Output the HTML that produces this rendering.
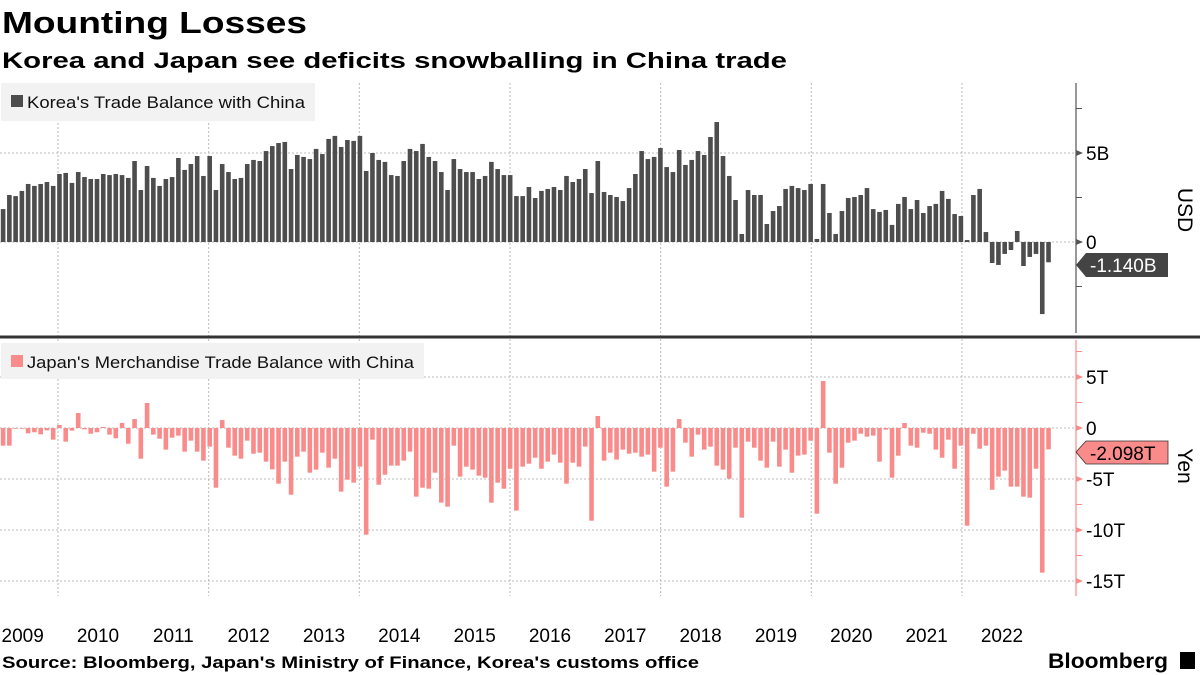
<!DOCTYPE html>
<html><head><meta charset="utf-8"><style>
html,body{margin:0;padding:0;background:#fff;}
svg{display:block;font-family:"Liberation Sans",sans-serif;}
</style></head><body>
<svg id="chart" width="1200" height="675" viewBox="0 0 1200 675" xmlns="http://www.w3.org/2000/svg">
<text x="2" y="33" font-size="31" font-weight="bold" fill="#000" textLength="305" lengthAdjust="spacingAndGlyphs">Mounting Losses</text>
<text x="2" y="68" font-size="22.5" font-weight="bold" fill="#000" textLength="785" lengthAdjust="spacingAndGlyphs">Korea and Japan see deficits snowballing in China trade</text>
<g id="grid"></g>
<g id="topbars"></g>
<g id="botbars"></g>
<g>
<rect x="1" y="83" width="314" height="38" fill="#f2f2f2"/>
<rect x="11" y="95" width="12" height="12" fill="#4d4d4d"/>
<text x="27" y="108" font-size="16.5" fill="#111" textLength="278" lengthAdjust="spacingAndGlyphs">Korea's Trade Balance with China</text>
</g>
<g>
<rect x="1" y="343" width="423" height="36" fill="#f2f2f2"/>
<rect x="11" y="355" width="12" height="12" fill="#f98b8b"/>
<text x="27" y="368" font-size="16.5" fill="#111" textLength="387" lengthAdjust="spacingAndGlyphs">Japan's Merchandise Trade Balance with China</text>
</g>
<rect x="0" y="335.5" width="1200" height="3" fill="#333"/>
<line x1="1076" y1="83" x2="1076" y2="333" stroke="#555" stroke-width="1.2"/>
<line x1="1076" y1="340" x2="1076" y2="596" stroke="#f98b8b" stroke-width="1.2"/>
<g id="axes"></g>
<text transform="translate(1178,210) rotate(90)" font-size="21" text-anchor="middle" fill="#000">USD</text>
<text transform="translate(1178,466) rotate(90)" font-size="21" text-anchor="middle" fill="#000">Yen</text>
<g>
<polygon points="1076,265 1086,253 1168,253 1168,277 1086,277" fill="#444"/>
<text x="1090" y="272" font-size="19" fill="#fff">-1.140B</text>
</g>
<g>
<polygon points="1076,452 1086,441 1168,441 1168,464 1086,464" fill="#f98b8b" stroke="#333" stroke-width="0.8"/>
<text x="1090" y="460" font-size="19" fill="#000">-2.098T</text>
</g>
<text x="2" y="668" font-size="16.5" font-weight="bold" fill="#000" textLength="697" lengthAdjust="spacingAndGlyphs">Source: Bloomberg, Japan's Ministry of Finance, Korea's customs office</text>
<text x="1048" y="668" font-size="21" font-weight="bold" fill="#000" textLength="120" lengthAdjust="spacingAndGlyphs">Bloomberg</text>
<rect x="1180" y="652" width="15" height="17" fill="#000"/>
</svg>
<script>
const korea = [1.85,2.64,2.58,2.87,3.26,3.15,3.26,3.37,3.15,3.82,3.88,3.32,3.93,3.65,3.54,3.54,3.82,3.76,3.82,3.76,3.60,4.55,2.92,4.27,3.60,3.15,3.54,3.65,4.72,4.05,4.38,4.83,3.71,4.83,2.92,4.38,3.93,3.54,3.60,4.38,4.61,4.55,5.11,5.39,5.56,5.62,4.10,4.89,4.78,4.66,5.23,4.94,5.79,5.96,5.34,5.73,5.68,5.96,3.99,5.00,4.61,4.50,3.76,3.71,4.55,5.23,5.11,5.51,4.78,4.55,3.93,2.92,4.66,4.10,3.93,3.93,3.54,3.71,4.50,4.10,3.76,3.76,2.58,2.58,3.09,2.47,2.87,2.98,3.09,2.92,3.71,3.37,3.54,4.10,2.75,4.55,2.81,2.64,2.53,2.30,3.03,3.82,5.11,4.66,4.78,5.28,4.21,3.93,5.17,4.33,4.61,5.11,4.89,5.90,6.74,4.83,3.71,2.36,0.45,2.92,2.64,2.64,1.01,1.74,2.02,2.98,3.15,3.03,2.92,3.26,0.17,3.26,1.63,0.45,1.74,2.47,2.53,2.64,3.03,1.85,1.69,1.80,0.96,2.14,2.53,1.85,2.36,1.63,2.02,2.14,2.87,2.42,1.57,1.46,0.11,2.64,2.98,0.56,-1.18,-1.29,-0.67,-0.45,0.62,-1.35,-0.84,-0.67,-4.05,-1.14];
const japan = [-1.73,-1.73,-0.07,-0.07,-0.52,-0.42,-0.62,-0.23,-1.14,0.29,-1.34,-0.26,1.47,-0.13,-0.56,-0.42,0.1,-0.65,-1.01,0.49,-1.54,0.88,-3.01,2.45,-0.65,-1.05,-2.12,-0.95,-0.75,-2.32,-1.24,-2.32,-3.20,-1.83,-5.85,0.78,-1.93,-2.71,-3.01,-1.24,-2.52,-2.42,-3.30,-4.05,-5.46,-3.30,-6.54,-2.81,-2.32,-4.38,-4.08,-2.42,-3.89,-3.01,-6.24,-5.07,-5.36,-3.79,-10.46,-1.14,-5.56,-4.58,-3.69,-3.69,-3.20,-2.32,-6.73,-5.85,-5.95,-4.38,-7.32,-7.71,-1.73,-4.77,-3.79,-4.08,-4.67,-4.87,-7.32,-5.36,-5.95,-3.99,-8.10,-3.79,-3.50,-2.91,-3.99,-3.30,-2.61,-3.40,-5.46,-3.40,-3.79,-1.83,-9.09,1.18,-3.20,-2.42,-3.10,-2.12,-2.52,-2.42,-2.81,-2.61,-4.28,-1.93,-5.75,-4.28,0.88,-1.44,-2.81,-0.65,-2.12,-1.83,-3.69,-4.08,-4.97,-1.93,-8.79,-1.34,-1.93,-3.20,-3.89,-1.34,-3.79,-2.12,-4.38,-2.71,-2.61,-1.24,-8.40,4.61,-2.42,-5.46,-3.89,-1.44,-1.24,-0.56,-0.85,-0.75,-3.30,-0.16,-4.87,-2.71,0.49,-1.73,-1.93,-0.46,-0.56,-2.12,-2.91,-1.14,-3.99,-1.73,-9.58,-0.56,-2.03,-1.73,-6.05,-4.77,-4.18,-5.75,-5.75,-6.73,-6.83,-3.99,-14.18,-2.10];
const years = ["2009","2010","2011","2012","2013","2014","2015","2016","2017","2018","2019","2020","2021","2022"];
const topTicks = [0,5];
const topTickLabels = ["0","5B"];
const botTicks = [5,0,-5,-10,-15];
const botTickLabels = ["5T","0","-5T","-10T","-15T"];
const firstMonth = 3; // April 2009 (0 = Jan 2009)

const NS = "http://www.w3.org/2000/svg";
const xBar = i => 3.1 + i * 6.26;
const xMonth = m => xBar(m - firstMonth);
const xGrid = yearIdx => 58 + (yearIdx - 1) * 75.33;
const yTop = v => 242 - v * 17.8;
const yBot = v => 428 - v * 10.2;
function mk(tag, attrs, parent){const e=document.createElementNS(NS,tag);for(const k in attrs)e.setAttribute(k,attrs[k]);parent.appendChild(e);return e;}
const grid = document.getElementById('grid');
const axes = document.getElementById('axes');
for (let y = 1; y < years.length; y += 2) {
  const gx = xGrid(y);
  const l = mk('line', {x1:gx, y1:83, x2:gx, y2:596, stroke:'#bbb', 'stroke-dasharray':'2,2', 'stroke-width':1}, grid);
  
  
}
topTicks.forEach((v, i) => {
  const gy = yTop(v);
  const l = mk('line', {x1:0, y1:gy, x2:1076, y2:gy, stroke:'#bbb', 'stroke-dasharray':'2,2'}, grid);
  
  
  const t = mk('text', {x:1086, y:gy+7, 'font-size':19, fill:'#000'}, axes);
  t.textContent = topTickLabels[i];
  
  
  mk('polygon', {points:`1076,${gy-3} 1083,${gy} 1076,${gy+3}`, fill:'#555'}, axes);
});
[-2.5,2.5,7.5].forEach(v => mk('line', {x1:1076, y1:yTop(v), x2:1082, y2:yTop(v), stroke:'#555'}, axes));
botTicks.forEach((v, i) => {
  const gy = yBot(v);
  const l = mk('line', {x1:0, y1:gy, x2:1076, y2:gy, stroke:'#bbb', 'stroke-dasharray':'2,2'}, grid);
  
  
  const t = mk('text', {x:1086, y:gy+7, 'font-size':19, fill:'#000'}, axes);
  t.textContent = botTickLabels[i];
  
  
  mk('polygon', {points:`1076,${gy-3} 1083,${gy} 1076,${gy+3}`, fill:'#f98b8b'}, axes);
});
[7.5,2.5,-2.5,-7.5,-12.5].forEach(v => mk('line', {x1:1076, y1:yBot(v), x2:1082, y2:yBot(v), stroke:'#f98b8b'}, axes));
years.forEach((yr, k) => {
  const cx = xGrid(k) + 37.5 - 34;
  const t = mk('text', {x:cx + 34 - 37.5 + 37.5 - 34 + 0, y:642, 'font-size':19, 'text-anchor':'middle', fill:'#000'}, axes);
  t.setAttribute('x', 58 + (k - 1) * 75.33 + 40);
  t.textContent = yr;
  
  
});
const tb = document.getElementById('topbars');
korea.forEach((v, i) => {
  const y0 = yTop(0), y1 = yTop(v);
  const r = mk('rect', {x:xBar(i)-2.3, y:Math.min(y0,y1), width:4.6, height:Math.max(0.5,Math.abs(y1-y0)), fill:'#4d4d4d'}, tb);
  
  
});
const bb = document.getElementById('botbars');
japan.forEach((v, i) => {
  const y0 = yBot(0), y1 = yBot(v);
  const r = mk('rect', {x:xBar(i)-2.3, y:Math.min(y0,y1), width:4.6, height:Math.max(0.5,Math.abs(y1-y0)), fill:'#f98b8b'}, bb);
  
  
});
</script>
</body></html>
